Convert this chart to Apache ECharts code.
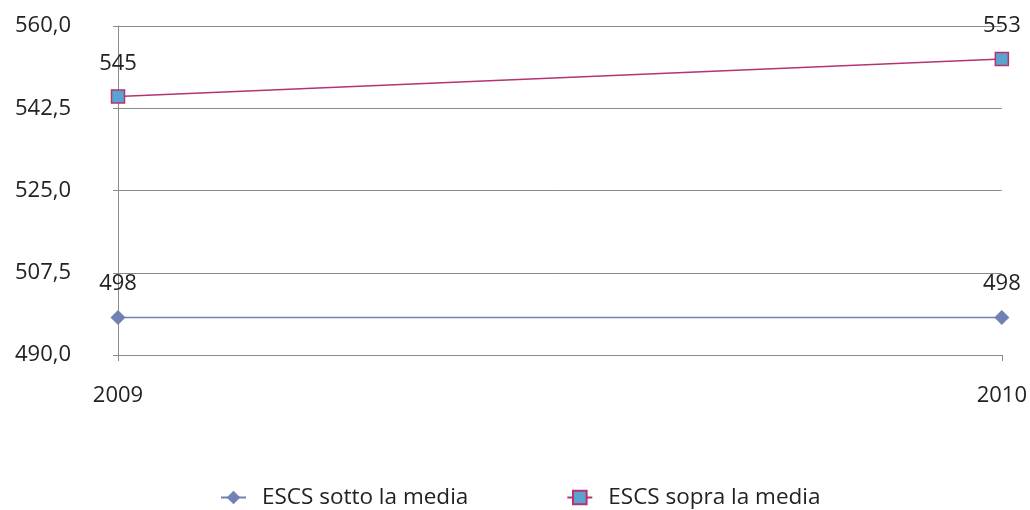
<!DOCTYPE html>
<html><head><meta charset="utf-8">
<script src="https://cdn.jsdelivr.net/npm/echarts@6/dist/echarts.min.js"></script>
<style>html,body{margin:0;padding:0;background:#fff}#c{width:1030px;height:510px}</style>
</head><body><div id="c"></div>
<script>
var categories = ['2009', '2010'];
var sotto = [498, 498];
var sopra = [545, 553];
var seriesNames = ['ESCS sotto la media', 'ESCS sopra la media'];
var yMin = 490, yMax = 560, yStep = 17.5;

var font = '"Open Sans", "Noto Sans", sans-serif';
var chart = echarts.init(document.getElementById('c'));
chart.setOption({
  animation: false,
  textStyle: {fontFamily: font},
  grid: {left: 118, right: 26, top: 26, bottom: 155},
  xAxis: {
    type: 'category', data: categories, boundaryGap: false,
    axisLine: {lineStyle: {color: '#8c8c8c', width: 1}},
    axisTick: {show: true, length: 6, lineStyle: {color: '#8c8c8c'}},
    axisLabel: {color: '#222', fontSize: 22, margin: 30, fontFamily: font},
    splitLine: {show: false}
  },
  yAxis: {
    type: 'value', min: yMin, max: yMax, interval: yStep,
    axisLine: {show: true, lineStyle: {color: '#8c8c8c', width: 1}},
    axisTick: {show: true, length: 5, lineStyle: {color: '#8c8c8c'}},
    axisLabel: {color: '#222', fontSize: 22, margin: 47, fontFamily: font,
      formatter: function (v) { return v.toFixed(1).replace('.', ','); }},
    splitLine: {show: true, lineStyle: {color: '#8c8c8c', width: 1}}
  },
  legend: {
    top: 481, left: 215, itemGap: 98, itemWidth: 25, itemHeight: 17,
    textStyle: {fontSize: 22.5, color: '#222', fontFamily: font, padding: [0, 0, 0, 11]},
    data: seriesNames
  },
  series: [
    {
      name: seriesNames[0], type: 'line', data: sotto,
      symbol: 'diamond', symbolSize: 15,
      lineStyle: {color: '#7281b5', width: 1.5},
      itemStyle: {color: '#7281b5'},
      label: {show: true, position: 'top', distance: 15, fontSize: 22, color: '#222', fontFamily: font}
    },
    {
      name: seriesNames[1], type: 'line', data: sopra,
      symbol: 'rect', symbolSize: 13,
      lineStyle: {color: '#b5336f', width: 1.5},
      itemStyle: {color: '#5ba4d2', borderColor: '#b5336f', borderWidth: 1.5},
      label: {show: true, position: 'top', distance: 15, fontSize: 22, color: '#222', fontFamily: font}
    }
  ]
});
</script></body></html>
